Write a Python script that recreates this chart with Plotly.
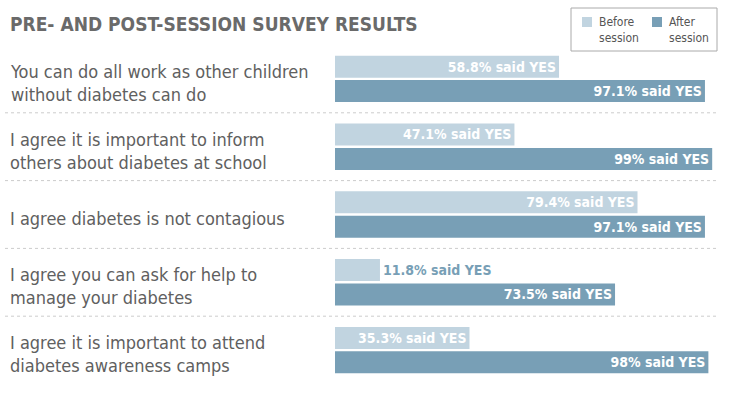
import plotly.graph_objects as go

questions = [
    "You can do all work as other children<br>without diabetes can do",
    "I agree it is important to inform<br>others about diabetes at school",
    "I agree diabetes is not contagious",
    "I agree you can ask for help to<br>manage your diabetes",
    "I agree it is important to attend<br>diabetes awareness camps",
]
before = [58.8, 47.1, 79.4, 11.8, 35.3]
after = [97.1, 99, 97.1, 73.5, 98]
series_names = ["Before<br>session", "After<br>session"]

cats = [f"q{i}" for i in range(len(questions))]
C_BEFORE = "#c1d4e0"
C_AFTER = "#789fb6"
FONT = "Liberation Sans Narrow, DejaVu Sans Condensed, Roboto, sans-serif"

def labels(vals):
    return [f"{v:g}% said YES" for v in vals]

def positions(vals):
    return ["outside" if v < 25 else "inside" for v in vals]

fig = go.Figure()
for name, vals, col in [(series_names[0], before, C_BEFORE), (series_names[1], after, C_AFTER)]:
    fig.add_trace(go.Bar(
        y=cats, x=vals, orientation="h", name=name, showlegend=False,
        marker=dict(color=col, line=dict(width=0)),
        text=labels(vals), textposition=positions(vals),
        insidetextanchor="end", textangle=0,
        insidetextfont=dict(color="white", size=14, family=FONT, weight="bold"),
        outsidetextfont=dict(color=C_AFTER, size=14, family=FONT, weight="bold"),
        cliponaxis=False,
    ))

L, R, T, B = 335, 755 - 716, 45, 13
W = 755 - L - R
H = 397 - T - B

def px(p):
    return (p - L) / W

def py(p):
    return 1 - (p - T) / H

annotations = []
for c, q in zip(cats, questions):
    annotations.append(dict(
        x=px(8), xref="paper", y=c, yref="y", yshift=-4, text=q, showarrow=False,
        xanchor="left", yanchor="middle", align="left",
        font=dict(size=18, color="#606060", family=FONT),
    ))
annotations.append(dict(
    x=px(8), xref="paper", y=py(24), yref="paper",
    text="<b>PRE- AND POST-SESSION SURVEY RESULTS</b>", showarrow=False,
    xanchor="left", yanchor="middle",
    font=dict(size=19, color="#6a6a6a", family=FONT),
))

shapes = []
for i in range(len(cats) - 1):
    shapes.append(dict(
        type="line", xref="paper", yref="y",
        x0=px(5), x1=1.0, y0=i + 0.5, y1=i + 0.5,
        line=dict(color="#cccccc", width=1, dash="dot"),
    ))

# legend box drawn by hand to match the compact original
shapes.append(dict(type="rect", xref="paper", yref="paper",
                   x0=px(571), x1=px(717), y0=py(51), y1=py(8),
                   line=dict(color="#aaaaaa", width=1), fillcolor="white"))
for (sx, tx), name, col in zip([(582, 597), (652, 667)], series_names, [C_BEFORE, C_AFTER]):
    shapes.append(dict(type="rect", xref="paper", yref="paper",
                       x0=px(sx), x1=px(sx + 10), y0=py(27), y1=py(17),
                       line=dict(width=0), fillcolor=col))
    annotations.append(dict(
        x=px(tx), xref="paper", y=py(30), yref="paper", text=name, showarrow=False,
        xanchor="left", yanchor="middle", align="left",
        font=dict(size=12, color="#555555", family=FONT),
    ))

fig.update_layout(
    width=755, height=397,
    margin=dict(l=L, r=R, t=T, b=B, autoexpand=False),
    paper_bgcolor="white", plot_bgcolor="white",
    barmode="group", bargap=0.28, bargroupgap=0.1,
    xaxis=dict(range=[0, 100], visible=False, fixedrange=True),
    yaxis=dict(categoryorder="array", categoryarray=cats, autorange="reversed",
               showticklabels=False, showgrid=False, zeroline=False, visible=False),
    showlegend=False,
    annotations=annotations, shapes=shapes,
    font=dict(family=FONT),
)

fig.write_html("out.html", config={"displayModeBar": False},
               post_script="document.body.style.margin='0';")
